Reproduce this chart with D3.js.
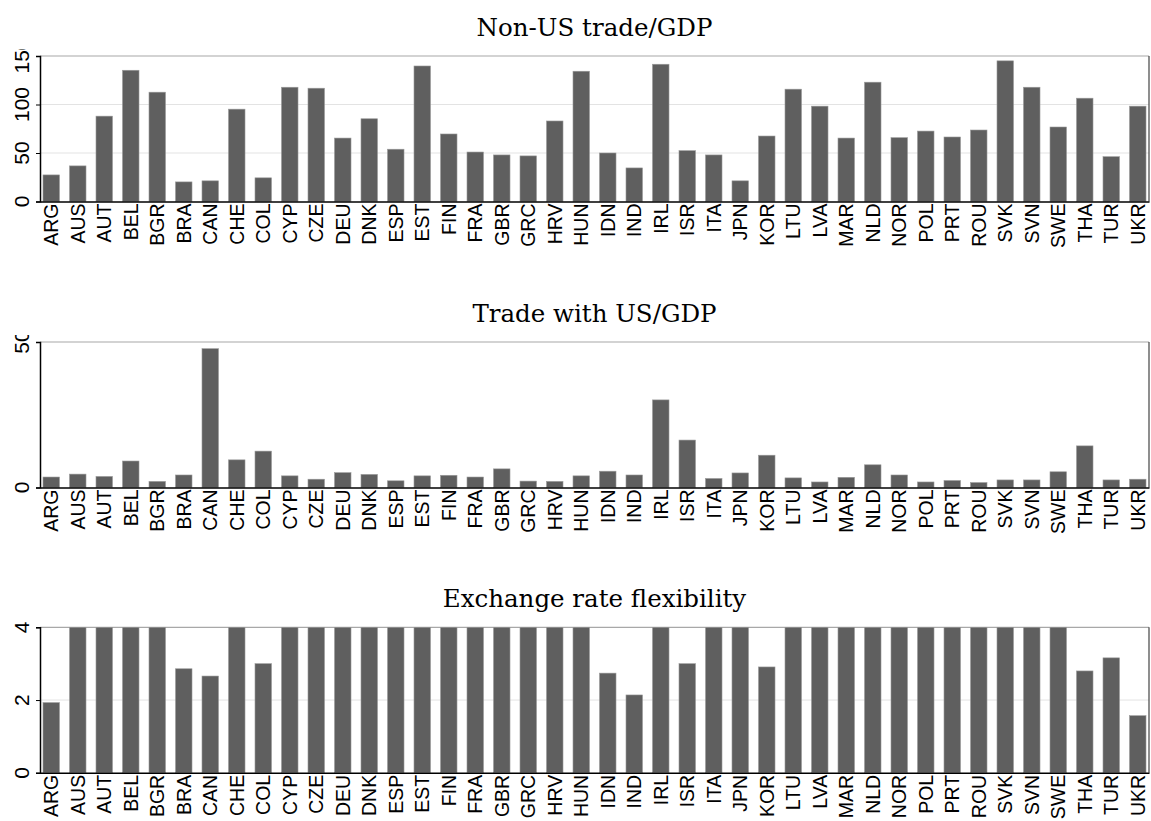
<!DOCTYPE html>
<html><head><meta charset="utf-8">
<script src="https://cdn.jsdelivr.net/npm/d3@7"></script>
<style>body{margin:0;background:#fff}svg{display:block}</style>
</head><body>
<svg id="c" width="1151" height="821"></svg>
<script>
const countries = ["ARG","AUS","AUT","BEL","BGR","BRA","CAN","CHE","COL","CYP","CZE","DEU","DNK","ESP","EST","FIN","FRA","GBR","GRC","HRV","HUN","IDN","IND","IRL","ISR","ITA","JPN","KOR","LTU","LVA","MAR","NLD","NOR","POL","PRT","ROU","SVK","SVN","SWE","THA","TUR","UKR"];
const nonUSTrade = [27.4,36.7,88,135.3,112.7,20.2,21.3,95.2,24.4,117.8,116.8,65.4,85.3,53.9,139.7,69.6,51,48,47,83,134.3,50,34.6,141.5,52.4,48,21.3,67.5,115.8,98.3,65.4,123,65.8,72.6,66.5,73.7,145,117.8,76.8,106.5,46.2,98.3];
const usTrade = [3.6,4.6,3.8,9.1,2.1,4.3,47.7,9.5,12.5,4.0,2.85,5.1,4.5,2.3,4.0,4.2,3.6,6.4,2.2,2.1,4.0,5.6,4.3,30.1,16.3,3.1,5.0,11.1,3.3,1.9,3.5,7.8,4.3,1.9,2.4,1.7,2.6,2.6,5.4,14.3,2.6,2.85];
const flexibility = [1.93,4,4,4,4,2.86,2.66,4,3.0,4,4,4,4,4,4,4,4,4,4,4,4,2.74,2.14,4,3.0,4,4,2.91,4,4,4,4,4,4,4,4,4,4,4,2.80,3.16,1.57];
const titles = ["Non-US trade/GDP","Trade with US/GDP","Exchange rate flexibility"];
const yMax = [150, 50, 4];
const yTicks = [[0,50,100,150],[0,50],[0,2,4]];

const series = [nonUSTrade, usTrade, flexibility];
const panelTops = [56, 342, 627.3];
const panelH = 145.5;
const left = 40, right = 1149;

const svg = d3.select("#c");
const x = d3.scaleBand().domain(countries).range([left, right]).paddingInner(0.377).paddingOuter(0.113);

series.forEach((vals, p) => {
  const top = panelTops[p], bottom = top + panelH;
  const y = d3.scaleLinear().domain([0, yMax[p]]).range([bottom, top]);
  const g = svg.append("g");

  g.selectAll("line.grid").data(yTicks[p].filter(t => t > 0 && t < yMax[p])).join("line")
    .attr("x1", left).attr("x2", right).attr("y1", d => y(d)).attr("y2", d => y(d))
    .attr("stroke", "#e3e3e3").attr("stroke-width", 1);

  g.append("line").attr("x1", left).attr("x2", right).attr("y1", top).attr("y2", top)
    .attr("stroke", "#a8a8a8").attr("stroke-width", 1.2);
  g.append("line").attr("x1", right).attr("x2", right).attr("y1", top).attr("y2", bottom)
    .attr("stroke", "#444").attr("stroke-width", 1.2);

  g.selectAll("rect").data(vals.map((v, i) => ({c: countries[i], v}))).join("rect")
    .attr("x", d => x(d.c)).attr("width", x.bandwidth())
    .attr("y", d => y(d.v)).attr("height", d => bottom - y(d.v))
    .attr("fill", "#5f5f5f").attr("stroke", "#9a9a9a").attr("stroke-width", 0.6);

  const clipId = "clip" + p;
  svg.append("clipPath").attr("id", clipId).append("rect")
    .attr("x", 0).attr("y", top - 7).attr("width", left).attr("height", panelH + 30);
  const ya = g.append("g").attr("transform", `translate(${left},0)`)
    .call(d3.axisLeft(y).tickValues(yTicks[p]).tickSize(4).tickPadding(0).tickFormat(d3.format("d")));
  ya.select(".domain").attr("stroke", "#000").attr("stroke-width", 1.5);
  ya.selectAll(".tick line").attr("stroke", "#000");
  ya.selectAll(".tick text").remove();
  const labelLayer = g.append("g").attr("clip-path", `url(#${clipId})`);
  yTicks[p].forEach(t => {
    labelLayer.append("text")
      .attr("transform", `translate(${left - 11},${y(t)}) rotate(-90)`)
      .attr("text-anchor", "middle")
      .attr("font-family", "'Liberation Sans', Arial, sans-serif").attr("font-size", 21)
      .attr("fill", "#000").text(t);
  });

  const xa = g.append("g").attr("transform", `translate(0,${bottom})`)
    .call(d3.axisBottom(x).tickSize(0).tickPadding(0));
  xa.select(".domain").attr("stroke", "#000").attr("stroke-width", 1.5);
  xa.selectAll(".tick text")
    .attr("font-family", "'Liberation Sans', Arial, sans-serif").attr("font-size", 19.5)
    .attr("fill", "#000").attr("text-anchor", "end")
    .attr("transform", "rotate(-90)").attr("x", -2).attr("y", 0).attr("dy", "0.36em");

  svg.append("text").attr("x", 594.5).attr("y", top - 20)
    .attr("text-anchor", "middle")
    .attr("font-family", "'DejaVu Serif', serif").attr("font-size", 24.5)
    .attr("fill", "#000").text(titles[p]);
});
</script>
</body></html>
